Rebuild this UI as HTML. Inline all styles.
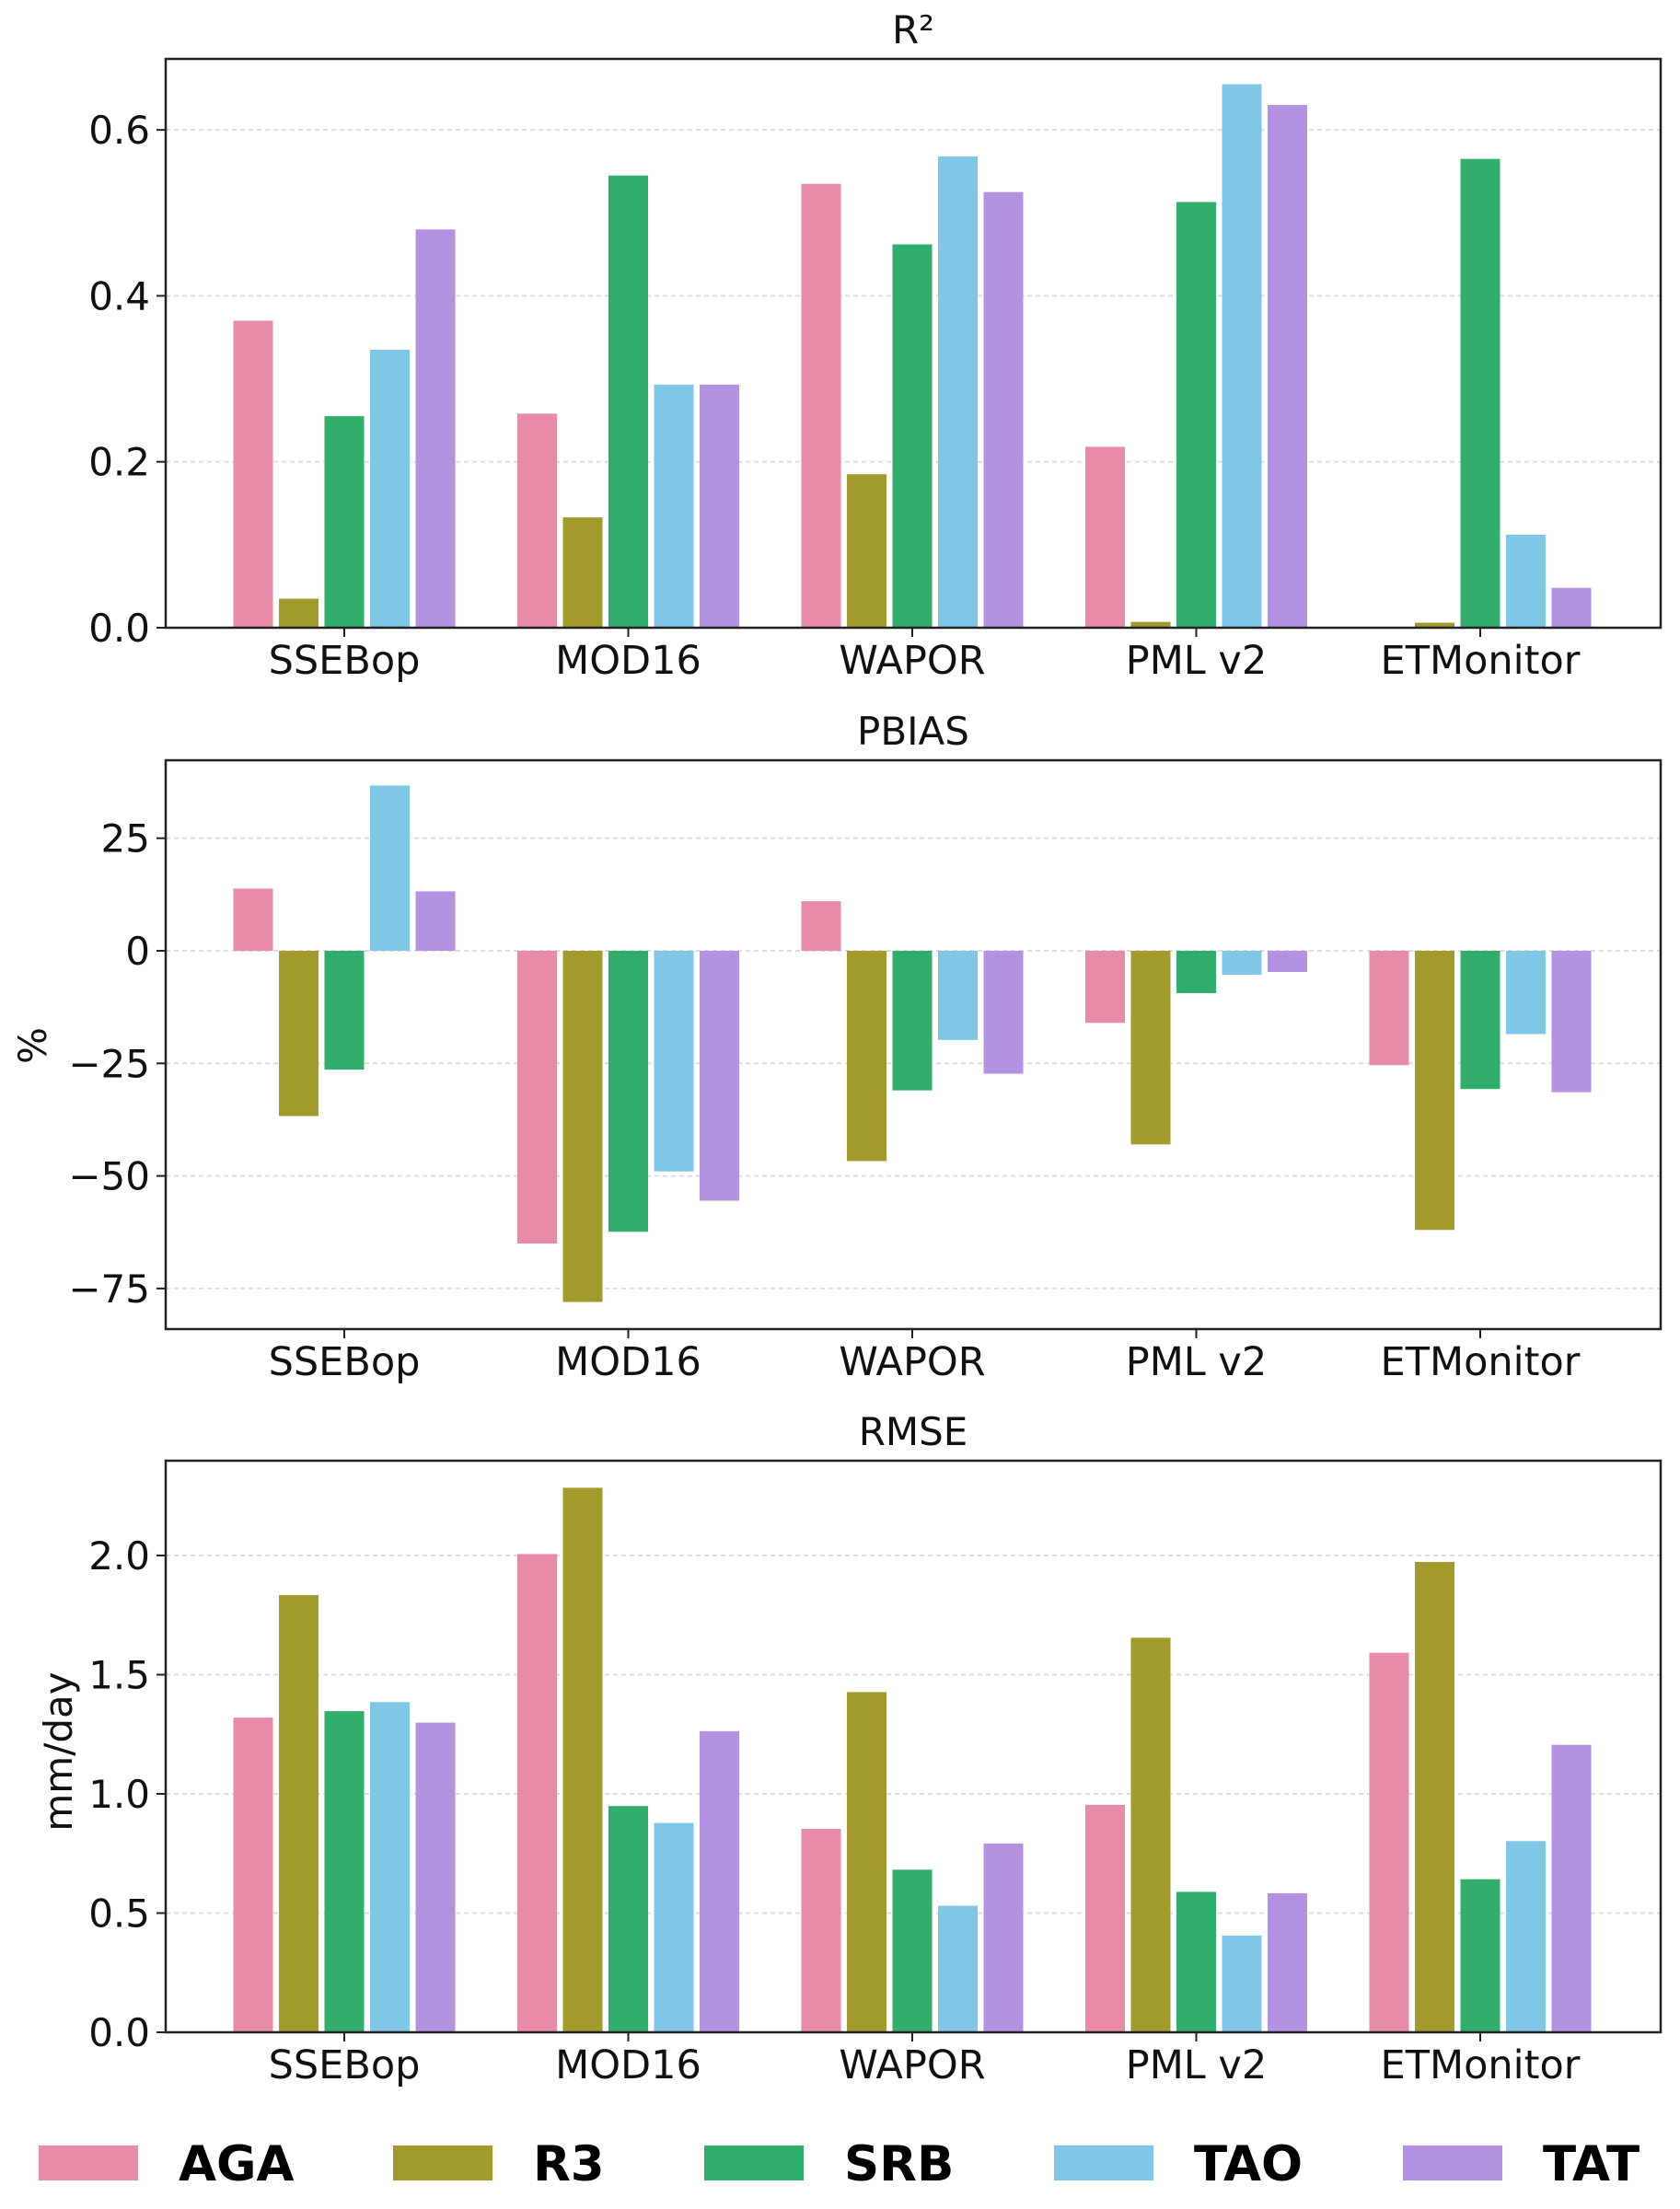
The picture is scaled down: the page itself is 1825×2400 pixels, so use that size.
<!DOCTYPE html>
<html><head><meta charset="utf-8"><style>
html,body{margin:0;padding:0;background:#fff;}
svg{display:block;font-family:"DejaVu Sans","Liberation Sans",sans-serif;}
</style></head><body>
<svg id="chart" width="1825" height="2400" viewBox="0 0 1825 2400" xmlns="http://www.w3.org/2000/svg"></svg>
<script>
const categories = ["SSEBop","MOD16","WAPOR","PML v2","ETMonitor"];
const seriesNames = ["AGA","R3","SRB","TAO","TAT"];
const seriesColors = ["#e78ba7","#a29a2b","#31ae6b","#80c6e6","#b492e2"];
// R2 values per series [SSEBop, MOD16, WAPOR, PML v2, ETMonitor]
const r2AGA = [0.37, 0.258, 0.535, 0.218, 0.0];
const r2R3  = [0.035, 0.133, 0.185, 0.007, 0.006];
const r2SRB = [0.255, 0.545, 0.462, 0.513, 0.565];
const r2TAO = [0.335, 0.293, 0.568, 0.655, 0.112];
const r2TAT = [0.48, 0.293, 0.525, 0.63, 0.048];
const pbAGA = [13.8, -65, 11, -16, -25.4];
const pbR3  = [-36.7, -78, -46.7, -43, -62];
const pbSRB = [-26.4, -62.4, -31, -9.4, -30.7];
const pbTAO = [36.7, -49, -19.8, -5.3, -18.5];
const pbTAT = [13.2, -55.5, -27.3, -4.7, -31.4];
const rmAGA = [1.32, 2.006, 0.853, 0.954, 1.592];
const rmR3  = [1.834, 2.284, 1.427, 1.655, 1.973];
const rmSRB = [1.347, 0.949, 0.682, 0.589, 0.642];
const rmTAO = [1.385, 0.878, 0.531, 0.406, 0.802];
const rmTAT = [1.299, 1.263, 0.792, 0.583, 1.206];
const r2Ticks = [0.0, 0.2, 0.4, 0.6];
const r2TickLabels = ["0.0","0.2","0.4","0.6"];
const pbTicks = [25, 0, -25, -50, -75];
const pbTickLabels = ["25","0","\u221225","\u221250","\u221275"];
const rmTicks = [0, 0.5, 1.0, 1.5, 2.0];
const rmTickLabels = ["0.0","0.5","1.0","1.5","2.0"];

const NS = "http://www.w3.org/2000/svg";
const svg = document.getElementById("chart");
function mk(tag, attrs, parent){
  const e = document.createElementNS(NS, tag);
  for (const k in attrs) e.setAttribute(k, attrs[k]);
  (parent||svg).appendChild(e);
  return e;
}
const L = 180, R = 1804;
const groupCenter0 = 374, groupStep = 308.5, slot = 49.5, barW = 43;
const XC = (L+R)/2;
function xCenter(i){ return groupCenter0 + i*groupStep; }

function panel(cfg){
  const g = mk("g", {});
  
  
  const y = v => cfg.y0 - (v - 0) * cfg.pxPerUnit;
  cfg.ticks.forEach((t, k) => {
    const gl = mk("line", {x1:L, x2:R, y1:y(t), y2:y(t), stroke:"#dddddd", "stroke-width":2, "stroke-dasharray":"5,4"}, g);
    
    
  });
  const sets = cfg.series;
  sets.forEach((vals, s) => {
    vals.forEach((v, i) => {
      const cx = xCenter(i) + (s-2)*slot;
      const y1 = y(Math.max(v,0)), y2 = y(Math.min(v,0));
      const r = mk("rect", {x:cx-barW/2, y:y1, width:barW, height:Math.max(0,y2-y1), fill:seriesColors[s]}, g);
      
      
    });
  });
  const fr = mk("rect", {x:L, y:cfg.top, width:R-L, height:cfg.bottom-cfg.top, fill:"none", stroke:"#222", "stroke-width":2.5}, g);
  
  
  cfg.ticks.forEach((t, k) => {
    mk("line", {x1:L-10, x2:L, y1:y(t), y2:y(t), stroke:"#222", "stroke-width":2}, g);
    const tx = mk("text", {x:163, y:y(t)+15, "text-anchor":"end", "font-size":42, fill:"#111"}, g);
    tx.textContent = cfg.tickLabels[k];
    
    
  });
  categories.forEach((c, i) => {
    mk("line", {x1:xCenter(i), x2:xCenter(i), y1:cfg.bottom, y2:cfg.bottom+10, stroke:"#222", "stroke-width":2}, g);
    const tx = mk("text", {x:xCenter(i), y:cfg.bottom+50, "text-anchor":"middle", "font-size":43, fill:"#111"}, g);
    tx.textContent = c;
    
    
  });
  const ti = mk("text", {x:XC, y:cfg.top-17, "text-anchor":"middle", "font-size":42, fill:"#111"}, g);
  ti.textContent = cfg.title;
  
  
  if (cfg.ylabel){
    const yl = mk("text", {transform:`translate(${cfg.ylx},${cfg.yly}) rotate(-90)`, "text-anchor":"middle", "font-size":42, fill:"#111"}, g);
    yl.textContent = cfg.ylabel;
    
    
  }
}

panel({name:"r2", title:"R\u00b2", top:64, bottom:682, y0:682, pxPerUnit:901.5,
  ticks:r2Ticks, tickLabels:r2TickLabels, series:[r2AGA,r2R3,r2SRB,r2TAO,r2TAT]});
panel({name:"pbias", title:"PBIAS", top:826, bottom:1444, y0:1033, pxPerUnit:4.892,
  ticks:pbTicks, tickLabels:pbTickLabels, series:[pbAGA,pbR3,pbSRB,pbTAO,pbTAT], ylabel:"%", ylx:50, yly:1136});
panel({name:"rmse", title:"RMSE", top:1587, bottom:2208, y0:2208, pxPerUnit:259,
  ticks:rmTicks, tickLabels:rmTickLabels, series:[rmAGA,rmR3,rmSRB,rmTAO,rmTAT], ylabel:"mm/day", ylx:78, yly:1903});

const legendPatchX = [42, 427, 765, 1145, 1524];
const lg = mk("g", {});


seriesNames.forEach((n, s) => {
  const p = mk("rect", {x:legendPatchX[s], y:2331, width:108, height:38, fill:seriesColors[s]}, lg);
  
  
  const t = mk("text", {x:legendPatchX[s]+152, y:2369, "font-size":53, "font-weight":"bold", fill:"#000"}, lg);
  t.textContent = n;
  
  
});
</script>
</body></html>
